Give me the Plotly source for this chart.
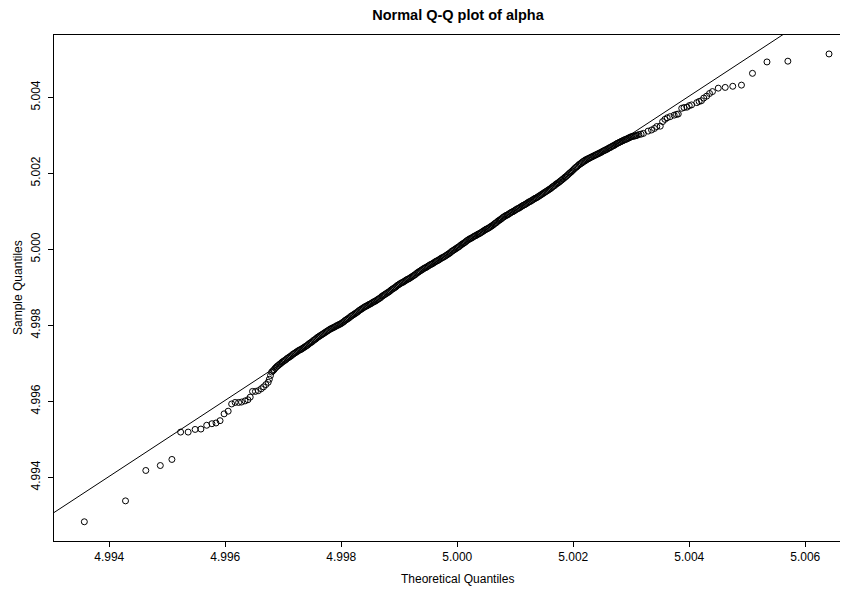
import plotly.graph_objects as go

# ---- data (Normal Q-Q plot of alpha) ----
# lower tail (theoretical, sample)
theo_low = [4.99357, 4.99428, 4.99463, 4.99488, 4.99508, 4.99523, 4.99536, 4.99548, 4.99558, 4.99568,
            4.99577, 4.99584, 4.99591, 4.99598, 4.99605, 4.99611, 4.99617, 4.99623, 4.99628, 4.99634,
            4.99639, 4.99643, 4.99647, 4.99652, 4.99657, 4.99662, 4.99666, 4.99670, 4.99674, 4.99676,
            4.99678]
samp_low = [4.99283, 4.99338, 4.99418, 4.99431, 4.99447, 4.99519, 4.99519, 4.99526, 4.99527, 4.99537,
            4.99541, 4.99543, 4.99549, 4.99567, 4.99574, 4.99593, 4.99597, 4.99597, 4.99598, 4.99601,
            4.99604, 4.99611, 4.99626, 4.99626, 4.99628, 4.99633, 4.99638, 4.99644, 4.99650, 4.99658,
            4.99668]

# dense body of the plot
theo_mid = [
    4.99680, 4.99682, 4.99684, 4.99686, 4.99688, 4.99690, 4.99692, 4.99694, 4.99696, 4.99698,
    4.99700, 4.99702, 4.99704, 4.99706, 4.99708, 4.99710, 4.99712, 4.99714, 4.99716, 4.99718,
    4.99720, 4.99722, 4.99724, 4.99726, 4.99728, 4.99730, 4.99732, 4.99734, 4.99736, 4.99738,
    4.99740, 4.99742, 4.99744, 4.99746, 4.99748, 4.99750, 4.99752, 4.99754, 4.99756, 4.99758,
    4.99760, 4.99762, 4.99764, 4.99766, 4.99768, 4.99770, 4.99772, 4.99774, 4.99776, 4.99778,
    4.99780, 4.99782, 4.99784, 4.99786, 4.99788, 4.99790, 4.99792, 4.99794, 4.99796, 4.99798,
    4.99800, 4.99802, 4.99804, 4.99806, 4.99808, 4.99810, 4.99812, 4.99814, 4.99816, 4.99818,
    4.99820, 4.99822, 4.99824, 4.99826, 4.99828, 4.99830, 4.99832, 4.99834, 4.99836, 4.99838,
    4.99840, 4.99842, 4.99844, 4.99846, 4.99848, 4.99850, 4.99852, 4.99854, 4.99856, 4.99858,
    4.99860, 4.99862, 4.99864, 4.99866, 4.99868, 4.99870, 4.99872, 4.99874, 4.99876, 4.99878,
    4.99880, 4.99882, 4.99884, 4.99886, 4.99888, 4.99890, 4.99892, 4.99894, 4.99896, 4.99898,
    4.99900, 4.99902, 4.99904, 4.99906, 4.99908, 4.99910, 4.99912, 4.99914, 4.99916, 4.99918,
    4.99920, 4.99922, 4.99924, 4.99926, 4.99928, 4.99930, 4.99932, 4.99934, 4.99936, 4.99938,
    4.99940, 4.99942, 4.99944, 4.99946, 4.99948, 4.99950, 4.99952, 4.99954, 4.99956, 4.99958,
    4.99960, 4.99962, 4.99964, 4.99966, 4.99968, 4.99970, 4.99972, 4.99974, 4.99976, 4.99978,
    4.99980, 4.99982, 4.99984, 4.99986, 4.99988, 4.99990, 4.99992, 4.99994, 4.99996, 4.99998,
    5.00000, 5.00002, 5.00004, 5.00006, 5.00008, 5.00010, 5.00012, 5.00014, 5.00016, 5.00018,
    5.00020, 5.00022, 5.00024, 5.00026, 5.00028, 5.00030, 5.00032, 5.00034, 5.00036, 5.00038,
    5.00040, 5.00042, 5.00044, 5.00046, 5.00048, 5.00050, 5.00052, 5.00054, 5.00056, 5.00058,
    5.00060, 5.00062, 5.00064, 5.00066, 5.00068, 5.00070, 5.00072, 5.00074, 5.00076, 5.00078,
    5.00080, 5.00082, 5.00084, 5.00086, 5.00088, 5.00090, 5.00092, 5.00094, 5.00096, 5.00098,
    5.00100, 5.00102, 5.00104, 5.00106, 5.00108, 5.00110, 5.00112, 5.00114, 5.00116, 5.00118,
    5.00120, 5.00122, 5.00124, 5.00126, 5.00128, 5.00130, 5.00132, 5.00134, 5.00136, 5.00138,
    5.00140, 5.00142, 5.00144, 5.00146, 5.00148, 5.00150, 5.00152, 5.00154, 5.00156, 5.00158,
    5.00160, 5.00162, 5.00164, 5.00166, 5.00168, 5.00170, 5.00172, 5.00174, 5.00176, 5.00178,
    5.00180, 5.00182, 5.00184, 5.00186, 5.00188, 5.00190, 5.00192, 5.00194, 5.00196, 5.00198,
    5.00200, 5.00202, 5.00204, 5.00206, 5.00208, 5.00210, 5.00212, 5.00214, 5.00216, 5.00218,
    5.00220, 5.00222, 5.00224, 5.00226, 5.00228, 5.00230, 5.00232, 5.00234, 5.00236, 5.00238,
    5.00240, 5.00242, 5.00244, 5.00246, 5.00248, 5.00250, 5.00252, 5.00254, 5.00256, 5.00258,
    5.00260, 5.00262, 5.00264, 5.00266, 5.00268, 5.00270, 5.00272, 5.00274, 5.00276, 5.00278,
    5.00280, 5.00282, 5.00284, 5.00286, 5.00288, 5.00290, 5.00292, 5.00294, 5.00296, 5.00298,
    5.00300, 5.00302, 5.00304, 5.00306, 5.00308, 5.00310]
samp_mid = [
    4.99677, 4.99680, 4.99683, 4.99687, 4.99690, 4.99693, 4.99695, 4.99698, 4.99700, 4.99703,
    4.99705, 4.99707, 4.99709, 4.99712, 4.99714, 4.99716, 4.99718, 4.99720, 4.99723, 4.99725,
    4.99727, 4.99729, 4.99731, 4.99733, 4.99735, 4.99736, 4.99738, 4.99740, 4.99742, 4.99744,
    4.99746, 4.99748, 4.99751, 4.99753, 4.99755, 4.99757, 4.99760, 4.99762, 4.99764, 4.99767,
    4.99769, 4.99771, 4.99773, 4.99775, 4.99777, 4.99779, 4.99781, 4.99783, 4.99785, 4.99787,
    4.99789, 4.99791, 4.99792, 4.99794, 4.99795, 4.99797, 4.99799, 4.99800, 4.99802, 4.99803,
    4.99805, 4.99807, 4.99809, 4.99812, 4.99814, 4.99816, 4.99818, 4.99820, 4.99823, 4.99825,
    4.99827, 4.99829, 4.99831, 4.99833, 4.99835, 4.99838, 4.99840, 4.99842, 4.99844, 4.99846,
    4.99848, 4.99850, 4.99851, 4.99853, 4.99855, 4.99856, 4.99858, 4.99860, 4.99862, 4.99863,
    4.99865, 4.99867, 4.99869, 4.99871, 4.99873, 4.99876, 4.99878, 4.99880, 4.99882, 4.99884,
    4.99886, 4.99888, 4.99890, 4.99893, 4.99895, 4.99897, 4.99899, 4.99901, 4.99904, 4.99906,
    4.99908, 4.99910, 4.99912, 4.99913, 4.99915, 4.99917, 4.99919, 4.99921, 4.99922, 4.99924,
    4.99926, 4.99928, 4.99930, 4.99932, 4.99934, 4.99937, 4.99939, 4.99941, 4.99943, 4.99945,
    4.99947, 4.99949, 4.99951, 4.99952, 4.99954, 4.99956, 4.99958, 4.99960, 4.99961, 4.99963,
    4.99965, 4.99967, 4.99969, 4.99970, 4.99972, 4.99974, 4.99976, 4.99978, 4.99979, 4.99981,
    4.99983, 4.99985, 4.99987, 4.99989, 4.99991, 4.99994, 4.99996, 4.99998, 5.00000, 5.00002,
    5.00004, 5.00006, 5.00008, 5.00011, 5.00013, 5.00015, 5.00017, 5.00019, 5.00022, 5.00024,
    5.00026, 5.00028, 5.00029, 5.00031, 5.00033, 5.00035, 5.00036, 5.00038, 5.00040, 5.00041,
    5.00043, 5.00045, 5.00047, 5.00049, 5.00051, 5.00053, 5.00054, 5.00056, 5.00058, 5.00060,
    5.00062, 5.00064, 5.00067, 5.00069, 5.00071, 5.00074, 5.00076, 5.00078, 5.00080, 5.00083,
    5.00085, 5.00087, 5.00089, 5.00090, 5.00092, 5.00094, 5.00096, 5.00098, 5.00099, 5.00101,
    5.00103, 5.00105, 5.00107, 5.00108, 5.00110, 5.00112, 5.00114, 5.00116, 5.00117, 5.00119,
    5.00121, 5.00123, 5.00125, 5.00126, 5.00128, 5.00130, 5.00132, 5.00134, 5.00135, 5.00137,
    5.00139, 5.00141, 5.00143, 5.00145, 5.00147, 5.00149, 5.00151, 5.00153, 5.00155, 5.00157,
    5.00159, 5.00161, 5.00164, 5.00166, 5.00168, 5.00171, 5.00173, 5.00175, 5.00177, 5.00180,
    5.00182, 5.00185, 5.00187, 5.00190, 5.00192, 5.00195, 5.00198, 5.00201, 5.00203, 5.00206,
    5.00209, 5.00212, 5.00215, 5.00217, 5.00220, 5.00223, 5.00225, 5.00227, 5.00230, 5.00232,
    5.00234, 5.00236, 5.00237, 5.00239, 5.00240, 5.00242, 5.00243, 5.00245, 5.00246, 5.00248,
    5.00249, 5.00251, 5.00252, 5.00254, 5.00255, 5.00257, 5.00259, 5.00260, 5.00262, 5.00263,
    5.00265, 5.00267, 5.00268, 5.00270, 5.00272, 5.00273, 5.00275, 5.00277, 5.00279, 5.00280,
    5.00282, 5.00283, 5.00285, 5.00286, 5.00288, 5.00289, 5.00290, 5.00292, 5.00293, 5.00295,
    5.00296, 5.00297, 5.00298, 5.00298, 5.00299, 5.00300]

# upper tail
theo_high = [5.00313, 5.00317, 5.00321, 5.00329, 5.00335, 5.00340, 5.00344, 5.00350, 5.00354, 5.00358,
             5.00362, 5.00367, 5.00374, 5.00378, 5.00381, 5.00387, 5.00391, 5.00396, 5.00400, 5.00404,
             5.00413, 5.00417, 5.00421, 5.00425, 5.00430, 5.00435, 5.00440, 5.00450, 5.00462, 5.00475,
             5.00490, 5.00509, 5.00534, 5.00570, 5.00641]
samp_high = [5.00302, 5.00303, 5.00305, 5.00311, 5.00314, 5.00318, 5.00323, 5.00324, 5.00336, 5.00342,
             5.00346, 5.00349, 5.00353, 5.00355, 5.00356, 5.00371, 5.00373, 5.00374, 5.00378, 5.00380,
             5.00386, 5.00389, 5.00391, 5.00398, 5.00403, 5.00410, 5.00415, 5.00424, 5.00426, 5.00429,
             5.00432, 5.00463, 5.00493, 5.00495, 5.00514]

# reference line (qqline) parameters
qq_center = 5.0
qq_intercept = 5.00003
qq_slope = 1.0006

x_ticks = [4.994, 4.996, 4.998, 5.000, 5.002, 5.004, 5.006]
y_ticks = [4.994, 4.996, 4.998, 5.000, 5.002, 5.004]

X_RANGE = [4.993047, 5.006737]
Y_RANGE = [4.992324, 5.005639]

theo = theo_low + theo_mid + theo_high
samp = samp_low + samp_mid + samp_high

FONT = "Liberation Sans, Arial, Helvetica, sans-serif"

# the page body adds an 8 px offset, so the figure is 8 px smaller and shifted
FIG_W, FIG_H = 840, 582
OFF = 8

fig = go.Figure()
fig.add_trace(go.Scatter(
    x=theo, y=samp, mode="markers",
    marker=dict(symbol="circle-open", size=6, color="black",
                line=dict(width=1, color="black")),
    showlegend=False, hoverinfo="x+y"))

line_x = [4.990, 5.010]
line_y = [qq_intercept + qq_slope * (v - qq_center) for v in line_x]
fig.add_trace(go.Scatter(
    x=line_x, y=line_y, mode="lines",
    line=dict(color="black", width=1), showlegend=False, hoverinfo="skip"))

axis_common = dict(
    showgrid=False, zeroline=False, showline=True, linecolor="black", linewidth=1,
    ticks="outside", ticklen=5, tickwidth=1, tickcolor="black",
    tickfont=dict(family=FONT, size=12, color="black"))

fig.update_layout(
    width=FIG_W, height=FIG_H,
    margin=dict(l=54 - OFF, r=0, t=35 - OFF, b=FIG_H - (541 - OFF)),
    paper_bgcolor="white", plot_bgcolor="white",
    font=dict(family=FONT, size=12, color="black"),
    title=dict(text="<b>Normal Q-Q plot of alpha</b>",
               font=dict(family=FONT, size=14.5, color="black"),
               xref="container", yref="container",
               x=(458 - OFF) / FIG_W, y=1 - (15 - OFF) / FIG_H,
               xanchor="center", yanchor="middle"),
    xaxis=dict(range=X_RANGE, tickvals=x_ticks,
               ticktext=[f"{v:.3f}" for v in x_ticks], mirror=True, **axis_common),
    yaxis=dict(range=Y_RANGE, tickvals=y_ticks,
               ticktext=[f"{v:.3f}" for v in y_ticks], tickangle=-90,
               ticklabelstandoff=3, **axis_common),
    annotations=[
        dict(text="Theoretical Quantiles", xref="paper", yref="paper",
             x=(457 - 54) / 794, y=(541 - 579) / 506, showarrow=False,
             xanchor="center", yanchor="middle",
             font=dict(family=FONT, size=12, color="black")),
        dict(text="Sample Quantiles", xref="paper", yref="paper",
             x=(18 - 54) / 794, y=0.5, showarrow=False, textangle=-90,
             xanchor="center", yanchor="middle",
             font=dict(family=FONT, size=12, color="black")),
    ],
)

fig.write_html("out.html")
